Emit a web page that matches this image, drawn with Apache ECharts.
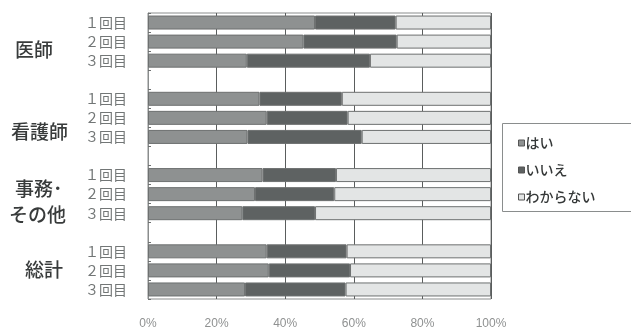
<!DOCTYPE html>
<html>
<head>
<meta charset="utf-8">
<script src="https://cdn.jsdelivr.net/npm/echarts@6/dist/echarts.min.js"></script>
<style>
  html, body { margin: 0; padding: 0; background: #fff; }
  #chart { width: 631px; height: 336px; }
</style>
</head>
<body>
<div id="chart"></div>
<script>
// Rows top to bottom; '' marks the spacer row between groups
const rowLabels = ['１回目', '２回目', '３回目', '', '１回目', '２回目', '３回目', '', '１回目', '２回目', '３回目', '', '１回目', '２回目', '３回目'];
const groupNames = ['医師', '看護師', '事務･', 'その他', '総計'];
const seriesNames = ['はい', 'いいえ', 'わからない'];

// Percentages per row (spacer rows are empty)
const yes     = [48.7, 45.3, 28.8, '-', 32.5, 34.6, 29.0, '-', 33.4, 31.2, 27.5, '-', 34.6, 35.2, 28.3];
const no      = [23.5, 27.2, 35.9, '-', 24.0, 23.6, 33.3, '-', 21.4, 23.1, 21.2, '-', 23.3, 23.7, 29.3];
const unknown = [27.8, 27.5, 35.3, '-', 43.5, 41.8, 37.7, '-', 45.2, 45.7, 51.3, '-', 42.1, 41.1, 42.4];

const xTicks = [0, 20, 40, 60, 80, 100];

const colors = ['#8e9191', '#5e6262', '#e3e5e5'];
const jpFont = '"Noto Sans CJK JP", sans-serif';

const chart = echarts.init(document.getElementById('chart'), null, { renderer: 'canvas' });

// group label placement (left edge, vertical centre)
const groupPos = [[15, 50], [11, 132], [15, 189], [9, 215], [25, 270]];
const groupGraphics = groupNames.map((name, g) => ({
  type: 'text',
  x: groupPos[g][0],
  y: groupPos[g][1],
  style: {
    text: name,
    font: '500 19px ' + jpFont,
    fill: '#383b3b',
    align: 'left',
    verticalAlign: 'middle'
  }
}));

// legend frame, running off the right edge
groupGraphics.push({
  type: 'rect',
  shape: { x: 502.5, y: 123.5, width: 200, height: 88 },
  style: { fill: 'none', stroke: '#8a8d8d', lineWidth: 1 },
  z: 0
});

const mk = (name, data, i) => ({
  name: name,
  type: 'bar',
  stack: 'total',
  data: data,
  barWidth: 14,
  itemStyle: { color: colors[i], borderColor: '#6d7070', borderWidth: 1 }
});

chart.setOption({
  animation: false,
  backgroundColor: '#ffffff',
  grid: {
    left: 148, right: 140, top: 13, bottom: 37,
    show: true, borderColor: '#8a8d8d', borderWidth: 1
  },
  xAxis: {
    type: 'value',
    min: xTicks[0], max: xTicks[xTicks.length - 1], interval: 20,
    axisLine: { show: false },
    axisTick: { show: false },
    splitLine: { show: true, lineStyle: { color: '#5a5d5d', width: 1 } },
    axisLabel: {
      formatter: '{value}%', color: '#8f9191', fontSize: 12,
      fontFamily: 'Liberation Sans, sans-serif', margin: 19
    }
  },
  yAxis: {
    type: 'category',
    inverse: true,
    data: rowLabels,
    axisLine: { show: true, lineStyle: { color: '#8a8d8d' } },
    axisTick: { show: true, inside: true, length: 3, lineStyle: { color: '#6d7070' } },
    axisLabel: { color: '#727676', fontSize: 14, fontFamily: jpFont, margin: 21 }
  },
  legend: {
    orient: 'vertical',
    left: 518, top: 136,
    padding: 0,
    itemGap: 13,
    itemWidth: 6, itemHeight: 6,
    selectedMode: false,
    icon: 'rect',
    data: seriesNames.map((n, i) => ({ name: n, itemStyle: { color: colors[i], borderColor: '#555', borderWidth: 1 } })),
    textStyle: { fontSize: 14, fontWeight: 500, fontFamily: jpFont, color: '#353838', padding: [0, 0, 0, -4], lineHeight: 14 }
  },
  graphic: groupGraphics,
  series: [mk(seriesNames[0], yes, 0), mk(seriesNames[1], no, 1), mk(seriesNames[2], unknown, 2)]
});
</script>
</body>
</html>
